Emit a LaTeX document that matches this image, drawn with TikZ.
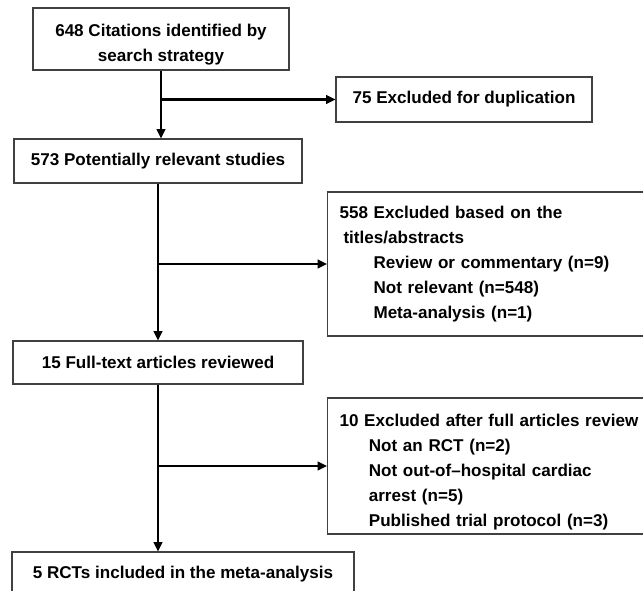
\documentclass[tikz,border=0pt]{standalone}
\usepackage{fontspec}
\setmainfont{Liberation Sans}
\usetikzlibrary{arrows.meta,positioning,calc}
\tikzset{
  flowbox/.style={draw=black!75, line width=0.8pt, align=center, inner xsep=9pt, inner ysep=0pt, font=\fontsize{12.8}{18.75}\selectfont\bfseries},
  exclbox/.style={flowbox, anchor=west, align=left, text width=250pt},
  flowarrow/.style={-{Triangle[length=7pt,width=6.5pt]}, line width=1.6pt}
}

\begin{document}
\begin{tikzpicture}[x=0.75pt,y=-0.75pt]
\useasboundingbox (0,0) rectangle (643,591);
\node[flowbox, minimum width=192pt, minimum height=46.5pt] (citations) at (161,39) {\rule{0pt}{18pt}648 Citations identified by\\search strategy};
\node[flowbox, minimum width=192pt, minimum height=33.75pt] (duplicates) at (464,99.5) {75 Excluded for duplication};
\node[flowbox, minimum width=216pt, minimum height=33pt] (studies) at (158,161) {573 Potentially relevant studies};
\node[exclbox, minimum height=108pt] (titles) at (327,264) {558 Excluded based on the\\
  \hspace*{3pt}titles/abstracts\\
  \hspace*{25.5pt}Review or commentary (n=9)\\
  \hspace*{25.5pt}Not relevant (n=548)\\
  \hspace*{25.5pt}Meta-analysis (n=1)};
\node[flowbox, minimum width=217.5pt, minimum height=32.25pt] (fulltext) at (158,362.5) {15 Full-text articles reviewed};
\node[exclbox, minimum height=102pt] (fullreview) at (327,466) {\rule{0pt}{19pt}10 Excluded after full articles review\\
  \hspace*{22pt}Not an RCT (n=2)\\
  \hspace*{22pt}Not out-of--hospital cardiac\\
  \hspace*{22pt}arrest (n=5)\\
  \hspace*{22pt}Published trial protocol (n=3)};
\node[flowbox, minimum width=256.5pt, minimum height=33pt] (included) at (183,574) {5 RCTs included in the meta-analysis};
% main flow
\draw[flowarrow] (citations.south) -- (citations.south |- studies.north);
\draw[flowarrow] (studies.south) -- (fulltext.north);
\draw[flowarrow] (fulltext.south) -- (fulltext.south |- included.north);
% exclusions
\draw[flowarrow] (citations.south |- duplicates.west) -- (duplicates.west);
\draw[flowarrow] (studies.south |- titles.west) -- (titles.west);
\draw[flowarrow] (fulltext.south |- fullreview.west) -- (fullreview.west);
\end{tikzpicture}
\end{document}
